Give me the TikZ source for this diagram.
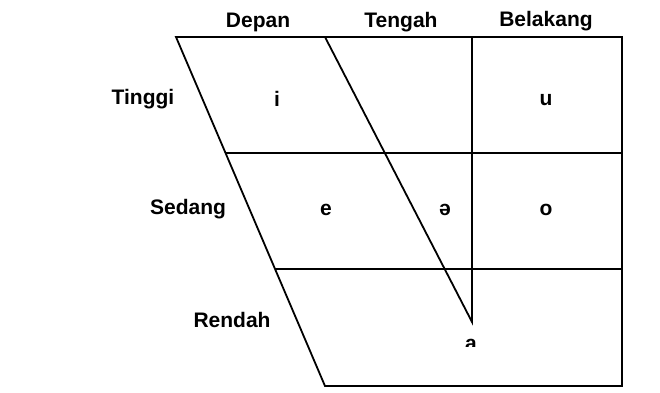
\documentclass[tikz,border=0pt]{standalone}
\usepackage{fontspec}
\setmainfont{Liberation Sans}
\usetikzlibrary{positioning}

\begin{document}
\begin{tikzpicture}[x=1pt,y=-1pt,
    lbl/.style={font=\bfseries\fontsize{21}{23}\selectfont,inner sep=0pt},
    garis/.style={line width=1.8pt,line join=miter}]
  \useasboundingbox (0,0) rectangle (660,392);
  % sudut bagan
  \coordinate (kiriAtas) at (176,37);
  \coordinate (kananAtas) at (622,37);
  \coordinate (kananBawah) at (622,386);
  \coordinate (kiriBawah) at (325,386);
  \coordinate (tinggiKiri) at (225.6,153);
  \coordinate (tinggiKanan) at (622,153);
  \coordinate (sedangKiri) at (275.3,269);
  \coordinate (sedangKanan) at (622,269);
  \coordinate (miringAtas) at (325,37);
  \coordinate (tegakAtas) at (472,37);
  \coordinate (ujung) at (472,322);
  % garis bagan
  \draw[garis] (kiriAtas) -- (kananAtas) -- (kananBawah) -- (kiriBawah) -- cycle;
  \draw[garis] (tinggiKiri) -- (tinggiKanan);
  \draw[garis] (sedangKiri) -- (sedangKanan);
  \draw[garis] (miringAtas) -- (ujung) -- (tegakAtas);
  % judul kolom dan baris
  \node[lbl] (depan) at (258,22) {Depan};
  \node[lbl] (tengah) at (401,22) {Tengah};
  \node[lbl] (belakang) at (546,21) {Belakang};
  \node[lbl] (tinggi) at (143,99) {Tinggi};
  \node[lbl] (sedang) at (188,209) {Sedang};
  \node[lbl] (rendah) at (232,320) {Rendah};
  % vokal
  \node[lbl] (vi) at (277,99) {i};
  \node[lbl] (vu) at (546,100) {u};
  \node[lbl] (ve) at (326,210) {e};
  \node[lbl] (vschwa) at (445,210) {ə};
  \node[lbl] (vo) at (546,210) {o};
  \begin{scope}
    \clip (440,330) rectangle (500,346);
    \node[lbl] (va) at (471,345) {a};
  \end{scope}
\end{tikzpicture}
\end{document}
